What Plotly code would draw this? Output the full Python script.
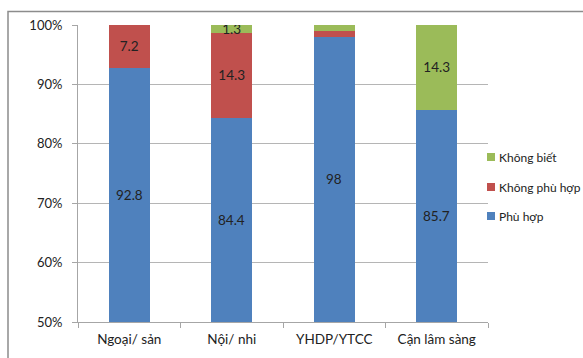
import plotly.graph_objects as go

categories = ["Ngoại/ sản", "Nội/ nhi", "YHDP/YTCC", "Cận lâm sàng"]
phu_hop = [92.8, 84.4, 98, 85.7]
khong_phu_hop = [7.2, 14.3, 1, 0]
khong_biet = [0, 1.3, 1, 14.3]
phu_hop_text = ["92.8", "84.4", "98", "85.7"]
khong_phu_hop_text = ["7.2", "14.3", "", ""]
khong_biet_text = ["", "1.3", "", "14.3"]
y_ticks = [50, 60, 70, 80, 90, 100]
y_tick_labels = ["50%", "60%", "70%", "80%", "90%", "100%"]
y_min, y_max = 50, 100

FONT = "Lato"
FS = 13.5
TXT = "#222222"

series = [
    ("Phù hợp", phu_hop, None, "#4F81BD"),
    ("Không phù hợp", khong_phu_hop, khong_phu_hop_text, "#C0504D"),
    ("Không biết", khong_biet, khong_biet_text, "#9BBB59"),
]

fig = go.Figure()
for name, vals, txt, col in series:
    fig.add_trace(go.Bar(
        x=categories, y=vals, name=name, showlegend=False,
        marker=dict(color=col, line=dict(width=0)),
        text=txt, textposition="inside" if txt else "none",
        insidetextanchor="middle",
        constraintext="none", textangle=0,
        textfont=dict(family=FONT, size=FS, color=TXT),
        hoverinfo="skip",
    ))

# labels of the blue segment: centred on the visible part (axis starts at 50%)
annotations = [
    dict(x=c, y=(y_min + v) / 2, xref="x", yref="y", text=t, showarrow=False,
         font=dict(family=FONT, size=FS, color=TXT))
    for c, v, t in zip(categories, phu_hop, phu_hop_text)
]

W, H = 583, 358
L, R, T, B = 78, 95, 25, 36
pw, ph = W - L - R, H - T - B

def px_x(p):
    return (p - L) / pw

def px_y(p):
    return (H - B - p) / ph

# manual legend placed like the reference (right of the plot area)
shapes = []
legend_rows = [157, 187, 216]
for (name, _, _, col), yy in zip(reversed(series), legend_rows):
    shapes.append(dict(
        type="rect", xref="paper", yref="paper",
        x0=px_x(487), x1=px_x(495), y0=px_y(yy + 4), y1=px_y(yy - 4),
        line=dict(width=0), fillcolor=col,
    ))
    annotations.append(dict(
        x=px_x(497), y=px_y(yy), xref="paper", yref="paper", text=name,
        showarrow=False, xanchor="left", yanchor="middle",
        font=dict(family=FONT, size=12, color=TXT),
    ))

shapes.append(dict(
    type="rect", xref="paper", yref="paper",
    x0=px_x(8), x1=px_x(W + 20),
    y0=px_y(H + 20), y1=px_y(11.5),
    line=dict(color="#8C8C8C", width=1.5), fillcolor="rgba(0,0,0,0)",
    layer="below",
))

fig.update_layout(
    width=W, height=H,
    margin=dict(l=L, r=R, t=T, b=B),
    barmode="stack", bargap=0.6,
    paper_bgcolor="white", plot_bgcolor="white",
    font=dict(family=FONT, size=FS, color=TXT),
    showlegend=False,
    annotations=annotations,
    shapes=shapes,
    xaxis=dict(
        showline=True, linecolor="#A6A6A6", linewidth=1,
        ticks="outside", tickson="boundaries", ticklen=5, tickcolor="#A6A6A6",
        showgrid=False, ticklabelstandoff=5,
        tickfont=dict(family=FONT, size=FS, color=TXT),
    ),
    yaxis=dict(
        range=[y_min, y_max], tickvals=y_ticks, ticktext=y_tick_labels,
        showline=True, linecolor="#A6A6A6", linewidth=1,
        ticks="outside", ticklen=5, tickcolor="#A6A6A6",
        showgrid=True, gridcolor="#B5B5B5", gridwidth=1,
        zeroline=False, ticklabelstandoff=7,
        tickfont=dict(family=FONT, size=13, color=TXT),
    ),
)

fig.write_html("out.html")
